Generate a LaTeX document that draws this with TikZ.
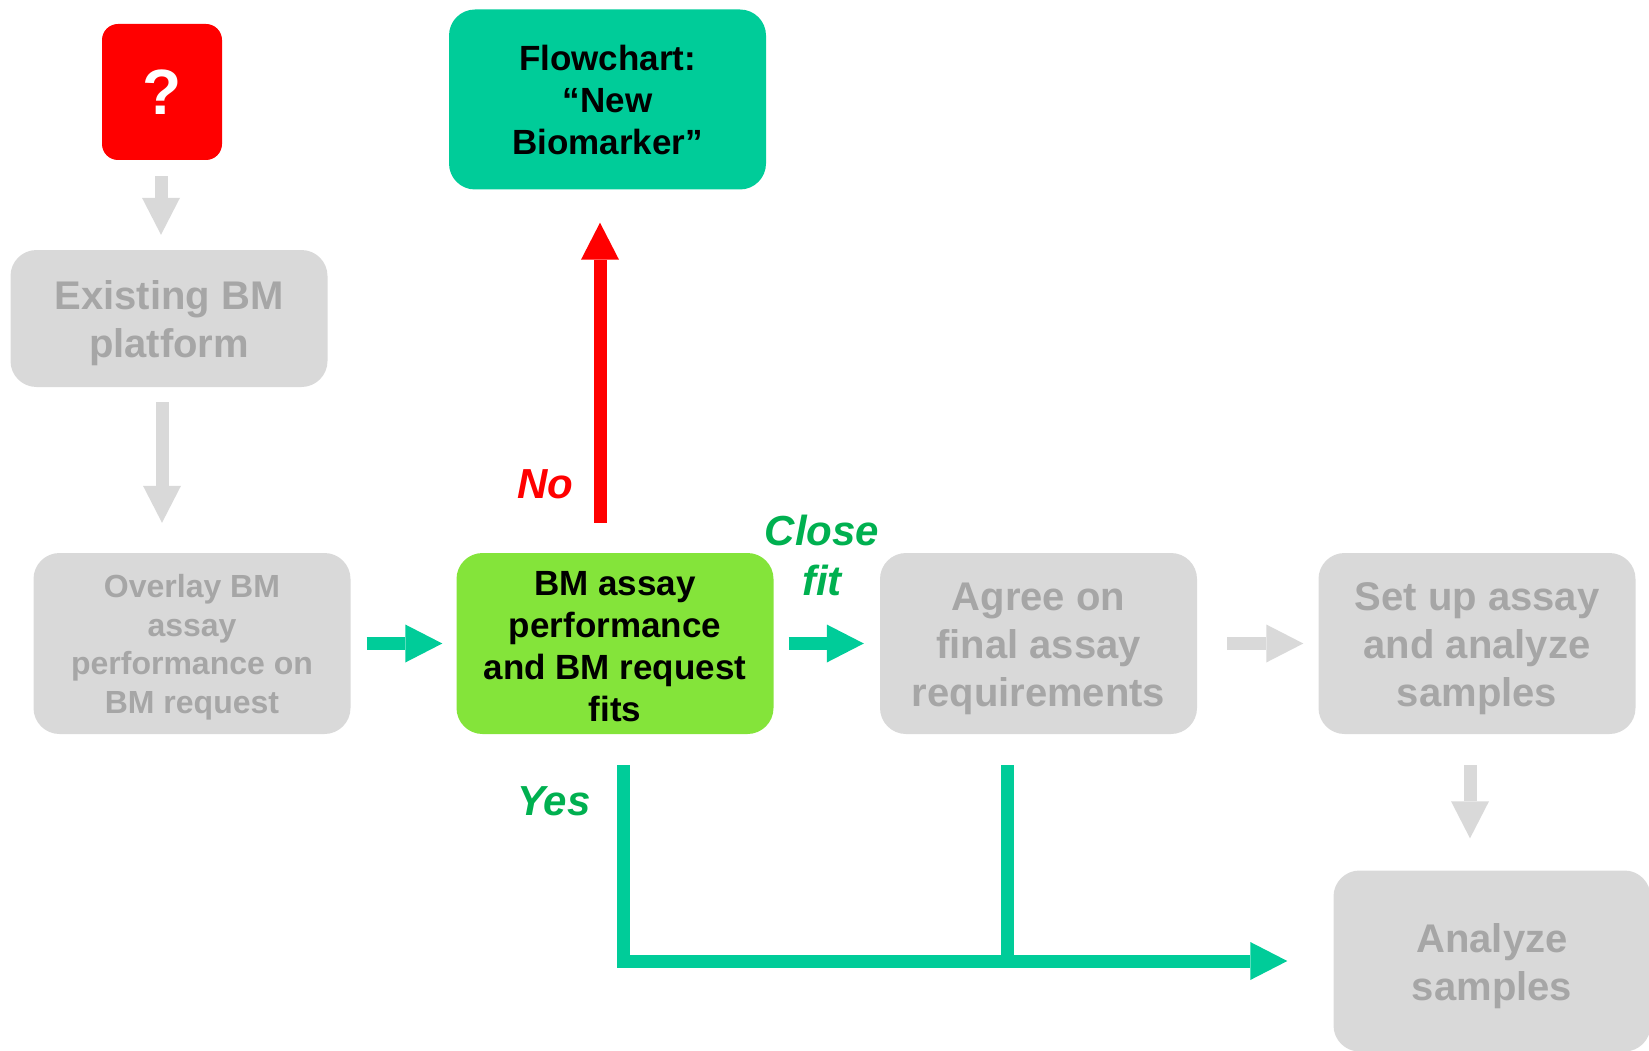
\documentclass[tikz,border=0pt]{standalone}
\usepackage{fontspec}
\setmainfont{Liberation Sans}
\usetikzlibrary{arrows.meta,calc}

\definecolor{boxgray}{HTML}{D9D9D9}
\definecolor{textgray}{HTML}{A6A6A6}
\definecolor{flowteal}{HTML}{00CC99}
\definecolor{fitgreen}{HTML}{84E43A}
\definecolor{labelgreen}{HTML}{00B050}
\definecolor{alertred}{HTML}{FF0000}

% a taller first line sets the text block a little lower in its box
\newcommand{\lowerby}[1]{\rule{0pt}{#1}}

\tikzset{
  stepbox/.style={rectangle, rounded corners=26pt, minimum width=317pt,
    minimum height=181pt, align=center, inner sep=0pt,
    font=\bfseries\fontsize{40}{48}\selectfont},
  graybox/.style={stepbox, fill=boxgray, text=textgray},
  blockarrow/.style={line width=13pt,
    -{Triangle[width=38pt,length=37pt,line width=0pt]}},
  grayarrow/.style={blockarrow, draw=boxgray},
  tealarrow/.style={blockarrow, draw=flowteal},
  redarrow/.style={blockarrow, draw=alertred},
  tealline/.style={line width=13pt, draw=flowteal, line join=miter},
  answer/.style={font=\bfseries\itshape\fontsize{42}{50}\selectfont, align=center, inner sep=0pt}
}

\begin{document}
\begin{tikzpicture}[x=1pt,y=-1pt]
\useasboundingbox (0,0) rectangle (1649,1051);

% boxes
\node[stepbox, fill=alertred, text=white, minimum width=120pt, minimum height=136pt,
      rounded corners=16pt, font=\bfseries\fontsize{64}{70}\selectfont] (q) at (162,92) {?};
\node[graybox, minimum height=137pt] (existing) at (169,318.5) {\lowerby{39pt}Existing BM\\platform};
\node[graybox, font=\bfseries\fontsize{32}{38.6}\selectfont] (overlay) at (192,643.5)
      {\lowerby{31pt}Overlay BM\\assay\\performance on\\BM request};
\node[stepbox, fill=fitgreen, text=black,
      font=\bfseries\fontsize{35}{42}\selectfont] (assay) at (615,643.5)
      {\lowerby{30pt}BM assay\\performance\\and BM request\\fits};
\node[graybox] (agree) at (1038.5,643.5) {\lowerby{39pt}Agree on\\final assay\\requirements};
\node[graybox] (setup) at (1477,643.5) {\lowerby{39pt}Set up assay\\and analyze\\samples};
\node[graybox] (analyze) at (1492,961) {\lowerby{39pt}Analyze\\samples};
\node[stepbox, fill=flowteal, text=black, minimum height=180pt,
      font=\bfseries\fontsize{35}{42}\selectfont] (flowchart) at (607.5,99.5)
      {Flowchart:\\“New\\Biomarker”};

% answer labels
\node[answer, text=alertred] (no) at (545,484) {No};
\node[answer, text=labelgreen] (close) at (822,555) {Close\\fit};
\node[answer, text=labelgreen] (yes) at (554,801.5) {Yes};

% main flow
\draw[grayarrow, shorten <=16pt, shorten >=15pt] ([xshift=-1pt]q.south) -- ([xshift=-1pt]q.south |- existing.north);
\draw[grayarrow, shorten <=15pt, shorten >=30pt] (existing.south -| q.south) -- (overlay.north -| q.south);
\draw[tealarrow, shorten <=16pt, shorten >=14pt] (overlay.east) -- (assay.west);
\draw[tealarrow, shorten <=15pt, shorten >=16pt] (assay.east) -- (agree.west);
\draw[grayarrow, shorten <=30pt, shorten >=15pt] (agree.east) -- (setup.west);
\draw[grayarrow, shorten <=31pt, shorten >=32pt] ([xshift=-7pt]setup.south) -- ([xshift=-7pt]setup.south |- analyze.north);

% no: new biomarker
\draw[redarrow, shorten <=30pt, shorten >=33pt] ([xshift=-15pt]assay.north) -- ([xshift=-15pt]assay.north |- flowchart.south);

% yes / close fit: straight to analysis
\draw[tealline, -{Triangle[width=38pt,length=37pt,line width=0pt]}, shorten >=46pt]
      ($(assay.south)+(8,31)$) |- (analyze.west);
\draw[tealline] ($(agree.south)+(-31,31)$) coordinate (j) -- (j |- analyze.west);
\end{tikzpicture}
\end{document}
